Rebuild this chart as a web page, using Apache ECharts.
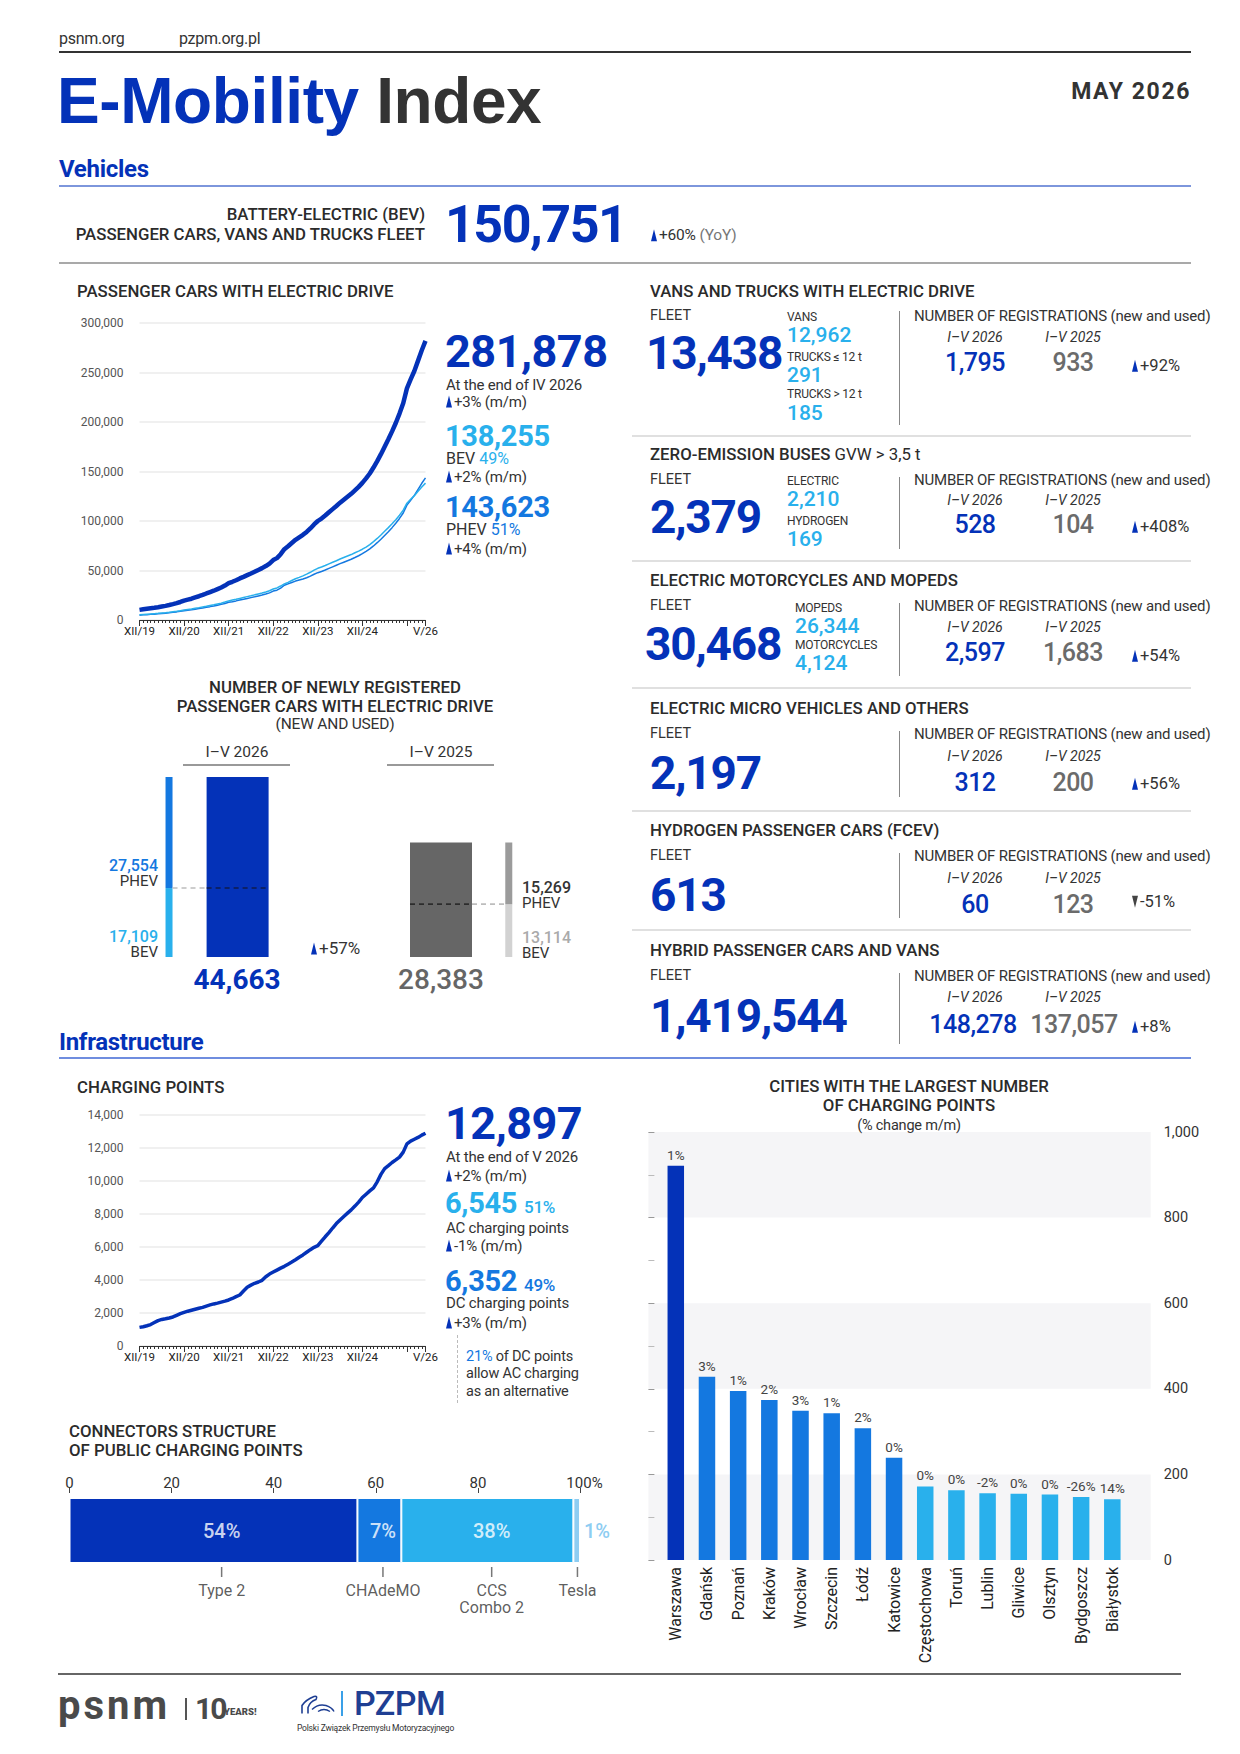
<!DOCTYPE html>
<html><head><meta charset="utf-8">
<script src="https://cdn.jsdelivr.net/npm/echarts@6/dist/echarts.min.js"></script>
<style>
html,body{margin:0;padding:0;background:#fff;}
#page{position:relative;width:1240px;height:1754px;overflow:hidden;font-family:Roboto,"Noto Sans",sans-serif;color:#333;}
#chart{position:absolute;left:0;top:0;width:1240px;height:1754px;}
.t{position:absolute;white-space:nowrap;line-height:1;transform:translateY(-50%);}
.t.c{transform:translate(-50%,-50%);}
.t.r{transform:translate(-100%,-50%);}
.ln{position:absolute;}
.tri{display:inline-block;width:0;height:0;border-left:3.5px solid transparent;border-right:3.5px solid transparent;border-bottom:12px solid #0432b8;margin-right:2px;vertical-align:-1px;}
.trid{display:inline-block;width:0;height:0;border-left:3.5px solid transparent;border-right:3.5px solid transparent;border-top:12px solid #444;margin-right:2px;vertical-align:-1px;}
</style></head><body><div id="page"><div id="chart"></div></div>
<script>
// ---------------- DATA ----------------
const xTickLabels = ['XII/19','XII/20','XII/21','XII/22','XII/23','XII/24','V/26'];
const xTickIdx = [0,12,24,36,48,60,77];
const pcTotal = [10200,10800,11300,11800,12300,12900,13600,14300,15100,16000,17000,18200,
19600,20600,21500,22800,24000,25300,26800,28200,29600,31200,32800,34800,
37200,38600,40200,42000,43600,45300,47000,48800,50600,52400,54500,57000,
60500,62500,66500,71500,74500,77800,81000,83500,86000,89000,92500,96500,
100000,102500,105500,108800,112000,115200,118500,121500,124500,127500,131000,134500,
138500,143000,148000,154000,160500,167500,175000,182500,190500,199000,208500,219000,
234000,243000,251500,262000,272500,281878];
const pcBEV = [5300,5600,5900,6100,6400,6700,7100,7400,7800,8300,8800,9400,
10200,10700,11200,11900,12500,13200,13900,14700,15400,16200,17000,18100,
19300,20100,20900,21800,22700,23600,24400,25400,26300,27200,28300,29600,
31300,32400,34300,36400,38000,39900,41700,43100,44600,46300,48200,50300,
52200,53500,55000,56700,58300,59900,61600,63100,64600,66100,67900,69600,
71500,73700,76200,79200,82400,85900,89600,93300,97200,101300,105900,110900,
118000,122000,125600,130000,134400,138255];
const pcPHEV = [4900,5200,5400,5700,5900,6200,6500,6900,7300,7700,8200,8800,
9400,9900,10300,10900,11500,12100,12900,13500,14200,15000,15800,16700,
17900,18500,19300,20200,20900,21700,22600,23400,24300,25200,26200,27400,
29200,30100,32200,35100,36500,37900,39300,40400,41400,42700,44300,46200,
47800,49000,50500,52100,53700,55300,56900,58400,59900,61400,63100,64900,
67000,69300,71800,74800,78100,81600,85400,89200,93300,97700,102600,108100,
116000,121000,125900,132000,138100,143623];
const cpTotal = [1130,1170,1230,1300,1420,1540,1610,1650,1700,1760,1860,1960,
2040,2110,2170,2230,2290,2340,2420,2490,2550,2600,2660,2720,
2790,2880,2990,3090,3330,3560,3690,3800,3880,3980,4200,4360,
4480,4600,4720,4830,4960,5090,5230,5380,5520,5680,5840,5980,
6080,6350,6620,6870,7150,7420,7640,7850,8050,8250,8480,8720,
9000,9200,9400,9580,9950,10400,10750,10930,11120,11280,11450,11750,
12250,12420,12530,12640,12780,12897];
const regPeriods = ['I–V 2026','I–V 2025'];
const regTotal = [44663, 28383];
const regBEV = [17109, 13114];
const regPHEV = [27554, 15269];
const connNames = ['Type 2','CHAdeMO','CCS\nCombo 2','Tesla'];
const connShare = [56.4, 8.6, 33.7, 1.3];
const connLabels = ['54%','7%','38%','1%'];
const connTickPos = [29.8, 61.4, 82.7, 99.5];
const cities = ['Warszawa','Gdańsk','Poznań','Kraków','Wrocław','Szczecin','Łódź','Katowice','Częstochowa','Toruń','Lublin','Gliwice','Olsztyn','Bydgoszcz','Białystok'];
const cityPoints = [921,428,395,374,349,343,308,239,172,163,156,155,153,147,142];
const cityChange = ['1%','3%','1%','2%','3%','1%','2%','0%','0%','0%','-2%','0%','0%','-26%','14%'];

// ---------------- HELPERS ----------------
const BLUE='#0432b8', MID='#1478e0', LIGHT='#29b0ec', GREY='#6b6b6b';
const fmt = v => Number(v).toLocaleString('en-US');
const page = document.getElementById('page');
function T(x,y,html,style,cls){const d=document.createElement('div');d.className='t '+(cls||'');d.style.cssText='left:'+x+'px;top:'+y+'px;'+(style||'');d.innerHTML=html;page.appendChild(d);}
function HL(x1,x2,y,h,color){const d=document.createElement('div');d.className='ln';d.style.cssText='left:'+x1+'px;top:'+(y-h/2)+'px;width:'+(x2-x1)+'px;height:'+h+'px;background:'+color;page.appendChild(d);}
function VL(x,y1,y2,w,color,dashed){const d=document.createElement('div');d.className='ln';d.style.cssText='left:'+(x-w/2)+'px;top:'+y1+'px;height:'+(y2-y1)+'px;width:0;border-left:'+w+'px '+(dashed?'dashed':'solid')+' '+color;page.appendChild(d);}
const tri='<span class="tri"></span>', trid='<span class="trid"></span>';
const TITLE='font-size:16.8px;font-weight:500;letter-spacing:0px;color:#2b2b2b;';

// months (category names)
const roman=['I','II','III','IV','V','VI','VII','VIII','IX','X','XI','XII'];
const months=[];
for(let k=0;k<pcTotal.length;k++){const m=(11+k)%12;const y=19+Math.floor((11+k)/12);months.push(roman[m]+'/'+y);}

// ---------------- HEADER TEXT ----------------
T(59,39,'psnm.org','font-size:16px;color:#333;letter-spacing:-0.3px;');
T(179,39,'pzpm.org.pl','font-size:16px;color:#333;letter-spacing:-0.3px;');
HL(59,1191,52,2.5,'#333');
T(57,101,'<span style="color:'+BLUE+'">E-Mobility</span> <span style="color:#333">Index</span>','font-family:"Liberation Sans",Arial,sans-serif;font-size:64px;font-weight:700;letter-spacing:-0.4px;');
T(1191,91,'MAY 2026','font-size:23px;font-weight:700;color:#333;letter-spacing:1.6px;','r');
T(59,168.5,'Vehicles','font-size:24px;font-weight:700;color:'+BLUE+';letter-spacing:-0.3px;');
HL(59,1191,186,2.5,'#7d96dc');
T(425,214,'BATTERY-ELECTRIC (BEV)',TITLE,'r');
T(425,234,'PASSENGER CARS, VANS AND TRUCKS FLEET',TITLE,'r');
T(445,224.5,'150,751','font-size:52px;font-weight:700;color:'+BLUE+';letter-spacing:-1.5px;');
T(651,236,tri+'+60% <span style="color:#777">(YoY)</span>','font-size:15.5px;color:#333;letter-spacing:-0.2px;');
HL(59,1191,263,2.5,'#a9a9a9');

// ---------------- PASSENGER CARS TEXT ----------------
T(77,291,'PASSENGER CARS WITH ELECTRIC DRIVE',TITLE);
T(445,351,'281,878','font-size:45px;font-weight:700;color:'+BLUE+';letter-spacing:-0.5px;');
T(446,385,'At the end of IV 2026','font-size:15px;letter-spacing:-0.2px;');
T(446,402,tri+'+3% (m/m)','font-size:15px;letter-spacing:-0.2px;');
T(445,435.5,'138,255','font-size:29px;font-weight:700;color:'+LIGHT+';letter-spacing:-0.3px;');
T(446,459,'BEV <span style="color:'+LIGHT+'">49%</span>','font-size:16px;');
T(446,477,tri+'+2% (m/m)','font-size:15px;letter-spacing:-0.2px;');
T(445,506.5,'143,623','font-size:29px;font-weight:700;color:'+MID+';letter-spacing:-0.3px;');
T(446,530,'PHEV <span style="color:'+MID+'">51%</span>','font-size:16px;');
T(446,549,tri+'+4% (m/m)','font-size:15px;letter-spacing:-0.2px;');

// ---------------- NEW REGISTRATIONS TEXT ----------------
T(335,687,'NUMBER OF NEWLY REGISTERED',TITLE,'c');
T(335,706,'PASSENGER CARS WITH ELECTRIC DRIVE',TITLE,'c');
T(335,725,'(NEW AND USED)','font-size:15.5px;letter-spacing:-0.2px;','c');
T(237,753,regPeriods[0],'font-size:15.5px;','c'); HL(183,290,765,2,'#999');
T(441,753,regPeriods[1],'font-size:15.5px;','c'); HL(387,494,765,2,'#999');
T(158,866,fmt(regPHEV[0]),'font-size:16px;font-weight:500;color:'+MID+';','r');
T(158,881,'PHEV','font-size:15px;','r');
T(158,937,fmt(regBEV[0]),'font-size:16px;font-weight:500;color:'+LIGHT+';','r');
T(158,952,'BEV','font-size:15px;','r');
T(522,888,fmt(regPHEV[1]),'font-size:16px;font-weight:500;color:#333;');
T(522,903,'PHEV','font-size:15px;');
T(522,938,fmt(regBEV[1]),'font-size:16px;font-weight:500;color:#aaa;');
T(522,953,'BEV','font-size:15px;');
T(311,948,tri+'+57%','font-size:17px;');
T(237,980,fmt(regTotal[0]),'font-size:28px;font-weight:700;color:'+BLUE+';','c');
T(441,980,fmt(regTotal[1]),'font-size:28px;font-weight:500;color:#666;','c');

// ---------------- RIGHT PANELS ----------------
const IT='font-size:14px;font-style:italic;color:#333;';
const SUBL='font-size:12px;color:#333;letter-spacing:-0.2px;';
const SUBV='font-size:21px;font-weight:500;color:'+LIGHT+';';
function panel(o){
  T(650,o.ty,o.title,TITLE);
  T(650,o.fy,'FLEET','font-size:14.5px;');
  T(o.bx,o.by,o.big,'font-size:46px;font-weight:700;color:'+BLUE+';letter-spacing:-1.2px;');
  (o.subs||[]).forEach(s=>T(s[0],s[1],s[2],s[3]));
  VL(900,o.d1,o.d2,1.5,'#888');
  T(914,o.fy,'NUMBER OF REGISTRATIONS (new and used)','font-size:15px;letter-spacing:-0.2px;');
  T(975,o.iy,'I–V 2026',IT,'c');
  T(1073,o.iy,'I–V 2025',IT,'c');
  T(o.v1x||975,o.vy,o.v1,'font-size:25px;font-weight:500;color:'+BLUE+';letter-spacing:-0.5px;','c');
  T(o.v2x||1073,o.vy,o.v2,'font-size:25px;font-weight:500;color:'+GREY+';letter-spacing:-0.5px;','c');
  T(1132,o.cy,(o.down?trid:tri)+o.ch,'font-size:16.5px;');
}
panel({ty:291,fy:316,title:'VANS AND TRUCKS WITH ELECTRIC DRIVE',bx:646,by:352.5,big:'13,438',
  subs:[[787,317,'VANS',SUBL],[787,335,'12,962',SUBV],[787,357,'TRUCKS ≤ 12 t',SUBL],[787,375,'291',SUBV],[787,394,'TRUCKS &gt; 12 t',SUBL],[787,413,'185',SUBV]],
  d1:311,d2:425,iy:337,vy:362,v1:'1,795',v2:'933',cy:366,ch:'+92%'});
HL(632,1191,436,2,'#e0e0e0');
panel({ty:454,fy:480,title:'ZERO-EMISSION BUSES <span style="font-weight:400">GVW &gt; 3,5 t</span>',bx:650,by:516.5,big:'2,379',
  subs:[[787,481,'ELECTRIC',SUBL],[787,499,'2,210',SUBV],[787,521,'HYDROGEN',SUBL],[787,539,'169',SUBV]],
  d1:477,d2:549,iy:500,vy:524,v1:'528',v2:'104',cy:527,ch:'+408%'});
HL(632,1191,561,2,'#e0e0e0');
panel({ty:580,fy:606,title:'ELECTRIC MOTORCYCLES AND MOPEDS',bx:645,by:643.5,big:'30,468',
  subs:[[795,608,'MOPEDS',SUBL],[795,626,'26,344',SUBV],[795,645,'MOTORCYCLES',SUBL],[795,663,'4,124',SUBV]],
  d1:603,d2:676,iy:627,vy:652,v1:'2,597',v2:'1,683',cy:656,ch:'+54%'});
HL(632,1191,688,2,'#e0e0e0');
panel({ty:708,fy:734,title:'ELECTRIC MICRO VEHICLES AND OTHERS',bx:650,by:772.5,big:'2,197',
  d1:731,d2:797,iy:756,vy:782,v1:'312',v2:'200',cy:784,ch:'+56%'});
HL(632,1191,811,2,'#e0e0e0');
panel({ty:830,fy:856,title:'HYDROGEN PASSENGER CARS (FCEV)',bx:650,by:895,big:'613',
  d1:853,d2:918,iy:878,vy:904,v1:'60',v2:'123',cy:902,ch:'-51%',down:true});
HL(632,1191,930,2,'#e0e0e0');
panel({ty:950,fy:976,title:'HYBRID PASSENGER CARS AND VANS',bx:650,by:1016,big:'1,419,544',
  d1:973,d2:1044,iy:997,vy:1024,v1:'148,278',v2:'137,057',v1x:973,v2x:1074,cy:1027,ch:'+8%'});

// ---------------- INFRASTRUCTURE ----------------
T(59,1042,'Infrastructure','font-size:24px;font-weight:700;color:'+BLUE+';letter-spacing:-0.3px;');
HL(59,1191,1058,2.5,'#6f8ddf');
T(77,1087,'CHARGING POINTS',TITLE);
T(445,1123,'12,897','font-size:45px;font-weight:700;color:'+BLUE+';letter-spacing:-0.5px;');
T(446,1157,'At the end of V 2026','font-size:15px;letter-spacing:-0.2px;');
T(446,1176,tri+'+2% (m/m)','font-size:15px;letter-spacing:-0.2px;');
T(445,1202.5,'6,545 <span style="font-size:17px;font-weight:500">51%</span>','font-size:29px;font-weight:700;color:'+LIGHT+';letter-spacing:-0.3px;');
T(446,1228,'AC charging points','font-size:15px;letter-spacing:-0.2px;');
T(446,1246,tri+'-1% (m/m)','font-size:15px;letter-spacing:-0.2px;');
T(445,1280.5,'6,352 <span style="font-size:17px;font-weight:500">49%</span>','font-size:29px;font-weight:700;color:'+MID+';letter-spacing:-0.3px;');
T(446,1303,'DC charging points','font-size:15px;letter-spacing:-0.2px;');
T(446,1323,tri+'+3% (m/m)','font-size:15px;letter-spacing:-0.2px;');
VL(458,1335,1403,1.5,'#bbb',true);
T(466,1357,'<span style="color:'+MID+'">21%</span> of DC points','font-size:14.5px;letter-spacing:-0.2px;');
T(466,1374,'allow AC charging','font-size:14.5px;letter-spacing:-0.2px;');
T(466,1392,'as an alternative','font-size:14.5px;letter-spacing:-0.2px;');
T(69,1431,'CONNECTORS STRUCTURE',TITLE);
T(69,1450,'OF PUBLIC CHARGING POINTS',TITLE);
T(909,1086,'CITIES WITH THE LARGEST NUMBER',TITLE,'c');
T(909,1105,'OF CHARGING POINTS',TITLE,'c');
T(909,1126,'(% change m/m)','font-size:14.5px;letter-spacing:-0.2px;','c');

// ---------------- FOOTER ----------------
HL(58,1181,1674,1.5,'#666');
T(58,1706,'psnm','font-size:40px;font-weight:700;color:#4a4a4a;letter-spacing:3px;');
VL(186,1698,1720,2,'#555');
T(195,1709,'10','font-size:30px;font-weight:700;color:#4a4a4a;letter-spacing:-2px;');
T(224,1712,'YEARS!','font-size:9.5px;font-weight:900;color:#4a4a4a;');
VL(342,1691,1716,2,'#3aa0e8');
T(354,1703,'PZPM','font-size:34px;font-weight:500;color:#1f3f93;letter-spacing:-0.5px;');
T(297,1728,'Polski Związek Przemysłu Motoryzacyjnego','font-size:8.5px;color:#333;letter-spacing:-0.2px;');
T(300,1706,'<svg width="36" height="22" viewBox="0 0 36 22"><path d="M2 20 L2 12 Q6 6 14 3 Q18 2 16 6 Q10 8 8 14 L8 20" fill="none" stroke="#1f3f93" stroke-width="1.6"/><path d="M12 16 Q18 10 26 12 Q32 14 34 18 M18 18 Q24 14 30 18" fill="none" stroke="#1f3f93" stroke-width="1.4"/></svg>','');

// ---------------- CHART ----------------
const chart = echarts.init(document.getElementById('chart'), null, {renderer:'svg', width:1240, height:1754});

const gPC={left:139.5,top:323,width:286,height:297};
const gRegMain={left:186.75,top:777,width:305.1,height:180};
const gRegThin={left:157.7,top:777,width:362.4,height:180};
const gCP={left:139.5,top:1115,width:286,height:231};
const gConn={left:69.5,top:1498,width:510.5,height:65};
const gCityBg={left:648.4,top:1132,width:502.3,height:428};
const gCity={left:660.2,top:1132,width:467.7,height:428};

const mainSlots=['2026','','2025'];
const mainIdx=[0,2];
const thinSlots=Array.from({length:16},(_,i)=>'s'+i);
const thinIdx=[0,15];
const mainColors=[BLUE,'#666666'], bevColors=[LIGHT,'#d2d2d2'], phevColors=[MID,'#9b9b9b'];
const MAINW=62, THINW=7;
const mainData=mainSlots.map(()=>null), bevData=thinSlots.map(()=>null), phevData=thinSlots.map(()=>null);
regTotal.forEach((v,k)=>{mainData[mainIdx[k]]={value:v,itemStyle:{color:mainColors[k]}};});
regBEV.forEach((v,k)=>{bevData[thinIdx[k]]={value:v,itemStyle:{color:bevColors[k]}};});
regPHEV.forEach((v,k)=>{phevData[thinIdx[k]]={value:v,itemStyle:{color:phevColors[k]}};});
const mainBand=gRegMain.width/mainSlots.length, thinBand=gRegThin.width/thinSlots.length;
const toThin = px => (px-gRegThin.left)/thinBand-0.5;
const mainEdge=(k,side)=>toThin(gRegMain.left+(mainIdx[k]+0.5)*mainBand+side*MAINW/2);
const thinEdge=(k,side)=>thinIdx[k]+side*(THINW/2)/thinBand;
function dash(x1,x2,y,color){return {type:'line',xAxisIndex:4,yAxisIndex:2,data:[[x1,y],[x2,y]],symbol:'none',silent:true,lineStyle:{color:color,width:1.6,type:[5,4]},z:6};}

const valAxisBase={axisLine:{show:false},axisTick:{show:false},axisLabel:{fontSize:12,color:'#555',margin:16,formatter:fmt,fontFamily:'Roboto'},splitLine:{show:true,lineStyle:{color:'#ebebeb',width:1.5}}};
function monthAxes(gi){
  return [
    {gridIndex:gi,type:'category',data:months,boundaryGap:false,position:'bottom',
      axisLine:{show:true,lineStyle:{color:'#333',width:1}},
      axisTick:{show:true,interval:0,length:3,lineStyle:{color:'#333',width:1}},
      axisLabel:{show:true,interval:(i)=>xTickIdx.indexOf(i)>=0,formatter:(v,i)=>{const k=xTickIdx.indexOf(i);return k>=0?xTickLabels[k]:'';},fontSize:11.5,color:'#222',margin:5,hideOverlap:false,fontFamily:'Roboto'},
      splitLine:{show:false}},
    {gridIndex:gi,type:'category',data:months,boundaryGap:false,position:'bottom',
      axisLine:{show:false},axisLabel:{show:false},splitLine:{show:false},
      axisTick:{show:true,interval:(i)=>i%12===0||i===months.length-1,length:6,lineStyle:{color:'#333',width:1}}}
  ];
}

const option={
  animation:false,
  textStyle:{fontFamily:'Roboto'},
  grid:[gPC,gRegMain,gRegThin,gCP,gConn,gCityBg,gCity],
  xAxis:[
    ...monthAxes(0),                                   //0,1
    {gridIndex:1,type:'category',data:mainSlots,show:false}, //2
    {gridIndex:2,type:'category',data:thinSlots,show:false}, //3
    {gridIndex:2,type:'value',min:-0.5,max:thinSlots.length-0.5,show:false}, //4
    ...monthAxes(3),                                   //5,6
    {gridIndex:4,type:'value',min:0,max:100,interval:20,position:'top',offset:5, //7
      axisLine:{show:false},axisTick:{show:true,length:5,lineStyle:{color:'#444'}},
      axisLabel:{fontSize:15,color:'#333',margin:3,fontFamily:'Roboto',formatter:v=>v===100?'{p|100%}':String(v),rich:{p:{fontSize:15,color:'#333',padding:[0,0,0,9],fontFamily:'Roboto'}}},
      splitLine:{show:false}},
    {gridIndex:5,type:'value',min:0,max:1,show:false}, //8
    {gridIndex:6,type:'category',data:cities,position:'bottom',axisLine:{show:false},axisTick:{show:false}, //9
      axisLabel:{interval:0,rotate:90,fontSize:16,color:'#222',margin:7,fontFamily:'Roboto',hideOverlap:false}}
  ],
  yAxis:[
    Object.assign({gridIndex:0,type:'value',min:0,max:300000,interval:50000,position:'left'},valAxisBase), //0
    {gridIndex:1,type:'value',min:0,max:regTotal[0],show:false}, //1
    {gridIndex:2,type:'value',min:0,max:regTotal[0],show:false}, //2
    Object.assign({gridIndex:3,type:'value',min:0,max:14000,interval:2000,position:'left'},valAxisBase), //3
    {gridIndex:4,type:'category',data:['conn'],show:false}, //4
    {gridIndex:5,type:'value',min:0,max:1000,interval:200,position:'right',offset:4, //5
      axisLine:{show:false},axisTick:{show:true,length:6,lineStyle:{color:'#999'}},
      minorTick:{show:true,splitNumber:2,length:6,lineStyle:{color:'#bbb'}},
      axisLabel:{fontSize:14.5,color:'#333',margin:9,formatter:fmt,fontFamily:'Roboto'},
      splitLine:{show:false},
      splitArea:{show:true,areaStyle:{color:['#f5f5f7','rgba(255,255,255,0)']}}},
    {gridIndex:6,type:'value',min:0,max:1000,show:false} //6
  ],
  series:[
    // passenger cars
    {type:'line',xAxisIndex:0,yAxisIndex:0,data:pcPHEV,showSymbol:false,symbol:'none',lineStyle:{color:MID,width:1.5},itemStyle:{color:MID},z:2},
    {type:'line',xAxisIndex:0,yAxisIndex:0,data:pcBEV,showSymbol:false,symbol:'none',lineStyle:{color:LIGHT,width:1.5},itemStyle:{color:LIGHT},z:2},
    {type:'line',xAxisIndex:0,yAxisIndex:0,data:pcTotal,showSymbol:false,symbol:'none',lineStyle:{color:BLUE,width:4.5},itemStyle:{color:BLUE},z:3},
    // newly registered
    {type:'bar',xAxisIndex:2,yAxisIndex:1,data:mainData,barWidth:MAINW,z:2},
    {type:'bar',xAxisIndex:3,yAxisIndex:2,stack:'thin',data:bevData,barWidth:THINW,z:2},
    {type:'bar',xAxisIndex:3,yAxisIndex:2,stack:'thin',data:phevData,barWidth:THINW,z:2},
    dash(thinEdge(0,1),mainEdge(0,-1),regBEV[0],'#bdbdbd'),
    dash(mainEdge(0,-1),mainEdge(0,1),regBEV[0],'rgba(20,20,40,0.75)'),
    dash(mainEdge(1,-1),mainEdge(1,1),regBEV[1],'rgba(30,30,30,0.8)'),
    dash(mainEdge(1,1),thinEdge(1,-1),regBEV[1],'#bdbdbd'),
    // charging points
    {type:'line',xAxisIndex:5,yAxisIndex:3,data:cpTotal,showSymbol:false,symbol:'none',lineStyle:{color:BLUE,width:3.5},itemStyle:{color:BLUE},z:3},
    // connectors
    ...connShare.map((v,k)=>({type:'bar',xAxisIndex:7,yAxisIndex:4,stack:'conn',barWidth:65,
      data:[v],itemStyle:{color:[BLUE,MID,LIGHT,'#8ecdf2'][k],borderColor:'#fff',borderWidth:1},
      label:{show:k===3,position:'right',distance:4,formatter:connLabels[k],fontSize:20,fontWeight:500,color:'#8ecdf2',fontFamily:'Roboto'}})),
    {type:'scatter',xAxisIndex:7,yAxisIndex:4,clip:false,symbol:'circle',symbolSize:1,silent:true,
      itemStyle:{color:'rgba(0,0,0,0)'},data:connTickPos.slice(0,3).map((p,k)=>({value:[p,'conn'],name:connLabels[k]})),
      label:{show:true,position:'inside',formatter:p=>p.name,fontSize:20,fontWeight:500,color:'#fff',fontFamily:'Roboto'},z:5},
    {type:'scatter',xAxisIndex:7,yAxisIndex:4,clip:false,symbol:'rect',symbolSize:[1.5,10],symbolOffset:[0,41.5],silent:true,
      itemStyle:{color:'#555'},data:connTickPos.map((p,k)=>({value:[p,'conn'],name:connNames[k]})),
      label:{show:true,position:'bottom',distance:5,formatter:p=>p.name,fontSize:16,color:'#333',lineHeight:17,align:'center',fontFamily:'Roboto'},z:4},
    // cities
    {type:'scatter',xAxisIndex:8,yAxisIndex:5,data:[]},
    {type:'bar',xAxisIndex:9,yAxisIndex:6,barWidth:16.5,
      data:cityPoints.map((v,i)=>({value:v,itemStyle:{color:i===0?BLUE:(i<8?MID:LIGHT)}})),
      label:{show:true,position:'top',distance:4,fontSize:13.5,color:'#444',formatter:p=>cityChange[p.dataIndex],fontFamily:'Roboto'},z:3}
  ]
};
chart.setOption(option);
</script></body></html>
